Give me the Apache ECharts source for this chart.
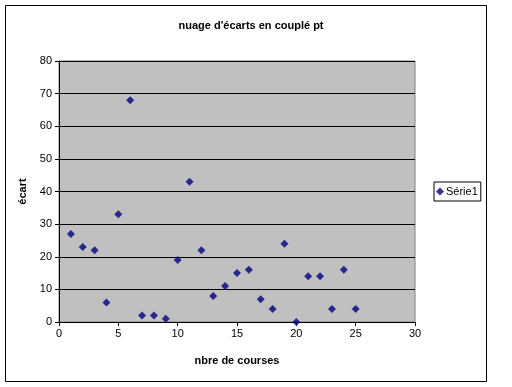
<!DOCTYPE html>
<html><head><meta charset="utf-8">
<script src="https://cdn.jsdelivr.net/npm/echarts@6/dist/echarts.min.js"></script>
<style>html,body{margin:0;padding:0;background:#fff}#c{width:512px;height:387px}</style>
</head><body><div id="c"></div>
<script>
const courses = [1,2,3,4,5,6,7,8,9,10,11,12,13,14,15,16,17,18,19,20,21,22,23,24,25];
const ecarts  = [27,23,22,6,33,68,2,2,1,19,43,22,8,11,15,16,7,4,24,0,14,14,4,16,4];
const seriesName = 'Série1';
const titleText = "nuage d'écarts en couplé pt";
const xName = 'nbre de courses';
const yName = 'écart';

const chart = echarts.init(document.getElementById('c'), null, {renderer:'canvas'});
const F = 'Liberation Sans, Arial, sans-serif';
chart.setOption({
  animation:false,
  title:{text:titleText,left:246,top:15,textAlign:'center',
    textStyle:{fontFamily:F,fontSize:11,fontWeight:'bold',color:'#000'}},
  graphic:[{type:'rect',shape:{x:5.5,y:5.5,width:481,height:376},
    style:{fill:null,stroke:'#000',lineWidth:1},z:-1}],
  legend:{data:[{name:seriesName,icon:'diamond'}],orient:'vertical',left:434,top:182,
    itemWidth:8,itemHeight:8,itemGap:4,padding:[4,3,4,2],
    borderColor:'#000',borderWidth:1,backgroundColor:'#fff',
    textStyle:{fontFamily:F,fontSize:11,color:'#000',padding:[0,0,0,-3]}},
  grid:{left:59,top:61,width:356,height:261,show:true,backgroundColor:'#c0c0c0',
    borderColor:'#808080',borderWidth:1},
  xAxis:{type:'value',min:0,max:30,interval:5,name:xName,nameLocation:'middle',nameGap:33,
    nameTextStyle:{fontFamily:F,fontSize:11,fontWeight:'bold',color:'#000'},
    axisLine:{show:true,lineStyle:{color:'#000'}},
    axisTick:{show:true,inside:false,length:4,lineStyle:{color:'#000'}},
    axisLabel:{fontFamily:F,fontSize:11,color:'#000',margin:6},
    splitLine:{show:false}},
  yAxis:{type:'value',min:0,max:80,interval:10,name:yName,nameLocation:'middle',nameGap:28,
    nameTextStyle:{fontFamily:F,fontSize:11,fontWeight:'bold',color:'#000'},
    axisLine:{show:true,lineStyle:{color:'#000'}},
    axisTick:{show:true,inside:false,length:4,lineStyle:{color:'#000'}},
    axisLabel:{fontFamily:F,fontSize:11,color:'#000',margin:7},
    splitLine:{show:true,lineStyle:{color:'#000',width:1}}},
  series:[{name:seriesName,type:'scatter',symbol:'diamond',symbolSize:8,
    itemStyle:{color:'#000080'},
    data:courses.map((x,i)=>[x,ecarts[i]])}]
});
</script></body></html>
